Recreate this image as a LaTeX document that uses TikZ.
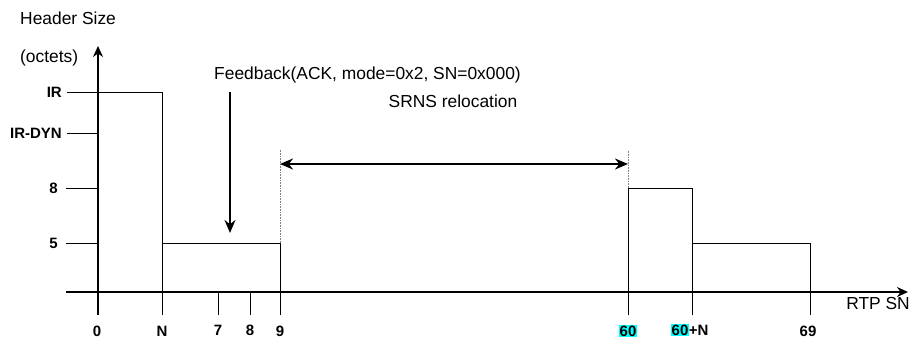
\documentclass[tikz,border=0pt]{standalone}
\usepackage{fontspec}
\setmainfont{Liberation Sans}
\usetikzlibrary{arrows.meta}
\definecolor{hl}{RGB}{0,255,255}
\newcommand{\hlt}[1]{{\setlength{\fboxsep}{0.5pt}\colorbox{hl}{#1}}}
\tikzset{
  axis/.style={line width=2.4pt},
  bar/.style={line width=0.9pt},
  tick/.style={line width=0.8pt},
  guide/.style={line width=0.6pt, densely dotted, gray},
  bigarrow/.style={line width=2.4pt, -{Stealth[length=13pt,width=11pt]}},
  dblarrow/.style={line width=2.4pt, {Stealth[length=13pt,width=11pt]}-{Stealth[length=13pt,width=11pt]}},
  lbl/.style={font=\fontsize{17.4}{20}\selectfont, inner sep=0pt},
  blbl/.style={font=\fontsize{15}{17}\bfseries\selectfont, inner sep=0pt},
}
\begin{document}
\begin{tikzpicture}[x=1pt,y=-1pt]
\useasboundingbox (0,0) rectangle (912,338);
% axes
\coordinate (yb) at (98,315);
\coordinate (yt) at (98,46);
\coordinate (xl) at (66,292);
\coordinate (xr) at (908,292);
\draw[axis, -{Stealth[length=11pt,width=10pt]}] (yb) -- (yt);
\draw[axis, -{Stealth[length=11pt,width=10pt]}] (xl) -- (xr);
% level ticks
\coordinate (irL) at (67,92);
\coordinate (irR) at (162,92);
\coordinate (dynL) at (67,133);
\coordinate (dynR) at (98,133);
\coordinate (eL) at (66,188);
\coordinate (eR) at (98,188);
\coordinate (fL) at (66,243);
\coordinate (fR) at (98,243);
\draw[tick] (irL) -- (irR);
\draw[tick] (dynL) -- (dynR);
\draw[tick] (eL) -- (eR);
\draw[tick] (fL) -- (fR);
% bars
\coordinate (nT) at (162,92);
\coordinate (nB) at (162,315);
\draw[bar] (nT) -- (nB);
\coordinate (b2L) at (162,243);
\coordinate (b2R) at (280,243);
\coordinate (nineB) at (280,315);
\draw[bar] (b2L) -- (b2R) -- (nineB);
\coordinate (sevT) at (218,292);
\coordinate (sevB) at (218,315);
\coordinate (eigT) at (250,292);
\coordinate (eigB) at (250,315);
\draw[bar] (sevT) -- (sevB);
\draw[bar] (eigT) -- (eigB);
\coordinate (b3B) at (628,315);
\coordinate (b3T) at (628,188);
\coordinate (b3R) at (692,188);
\coordinate (b4T) at (692,243);
\coordinate (b4B) at (692,315);
\coordinate (b5R) at (810,243);
\coordinate (b5B) at (810,315);
\draw[bar] (b3B) -- (b3T) -- (b3R) -- (b4B);
\draw[bar] (b4T) -- (b5R) -- (b5B);
% guides
\coordinate (g1T) at (280,150);
\coordinate (g2T) at (628,150);
\draw[guide] (b2R) -- (g1T);
\draw[guide] (b3T) -- (g2T);
% arrows
\coordinate (fbS) at (230,92);
\coordinate (fbE) at (230,233);
\draw[bigarrow] (fbS) -- (fbE);
\coordinate (srL) at (280,164);
\coordinate (srR) at (628,164);
\draw[dblarrow] (srL) -- (srR);
% texts
\node[lbl, anchor=west] (hs) at (20,18) {Header Size};
\node[lbl, anchor=west] (oc) at (20,58) {(octets)};
\node[lbl, anchor=west] (fb) at (214,75) {Feedback(ACK, mode=0x2, SN=0x000)};
\node[lbl] (sr) at (453,101) {SRNS relocation};
\node[lbl, anchor=east] (rtp) at (910,304) {RTP SN};
\node[blbl, anchor=east] (lir) at (62,92) {IR};
\node[blbl, anchor=east] (ldyn) at (62,133) {IR-DYN};
\node[blbl, anchor=east] (l8) at (58,188) {8};
\node[blbl, anchor=east] (l5) at (58,243) {5};
\node[blbl, anchor=base] (x0) at (97,336) {0};
\node[blbl, anchor=base] (xN) at (162,336) {N};
\node[blbl, anchor=base] (x7) at (218,335) {7};
\node[blbl, anchor=base] (x8) at (250,335) {8};
\node[blbl, anchor=base] (x9) at (280,336) {9};
\node[blbl, anchor=base] (x60) at (628,336) {\hlt{60}};
\node[blbl, anchor=base west] (x60n) at (671,335) {\hlt{60}+N};
\node[blbl, anchor=base] (x69) at (808,336) {69};
\end{tikzpicture}
\end{document}
